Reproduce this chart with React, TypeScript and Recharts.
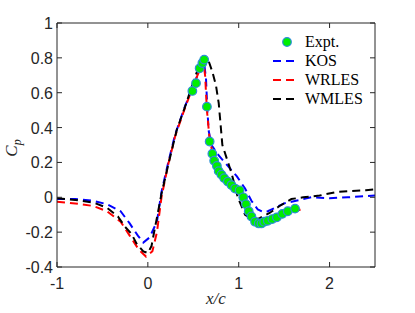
import {
  ComposedChart,
  Line,
  Scatter,
  XAxis,
  YAxis,
  Legend,
} from "recharts";

// Experimental Cp (markers)
const exptX = [0.49, 0.53, 0.57, 0.6, 0.62, 0.65, 0.68, 0.71, 0.73, 0.76, 0.78, 0.81, 0.84, 0.88, 0.92, 0.96, 1.01, 1.05, 1.08, 1.11, 1.14, 1.18, 1.22, 1.25, 1.28, 1.32, 1.37, 1.42, 1.48, 1.54, 1.62];
const exptY = [0.61, 0.655, 0.74, 0.77, 0.79, 0.52, 0.32, 0.25, 0.21, 0.18, 0.15, 0.13, 0.11, 0.09, 0.07, 0.05, 0.04, 0.0, -0.04, -0.08, -0.11, -0.14, -0.15, -0.15, -0.14, -0.135, -0.125, -0.115, -0.095, -0.08, -0.065];

const kosX = [-1, -0.8, -0.6, -0.45, -0.3, -0.2, -0.11, -0.05, 0.02, 0.1, 0.15, 0.22, 0.3, 0.4, 0.5, 0.57, 0.62, 0.64, 0.655, 0.67, 0.7, 0.74, 0.78, 0.88, 0.98, 1.07, 1.14, 1.21, 1.27, 1.32, 1.4, 1.5, 1.63, 1.8, 2.0, 2.2, 2.5];
const kosY = [-0.01, -0.01, -0.02, -0.04, -0.08, -0.15, -0.22, -0.26, -0.23, -0.14, 0.03, 0.19, 0.36, 0.51, 0.64, 0.73, 0.77, 0.68, 0.5, 0.38, 0.3, 0.27, 0.24, 0.18, 0.12, 0.05, -0.02, -0.07, -0.085, -0.08, -0.06, -0.035, -0.02, 0.0, -0.005, 0.0, 0.01];

const wrlesX = [-1, -0.8, -0.6, -0.45, -0.3, -0.2, -0.1, -0.02, 0.05, 0.1, 0.15, 0.22, 0.3, 0.4, 0.5, 0.57, 0.61, 0.63, 0.65, 0.68, 0.72, 0.78, 0.85, 0.92, 1.0, 1.06, 1.12, 1.18, 1.24, 1.3, 1.4, 1.5, 1.6, 1.68];
const wrlesY = [-0.025, -0.035, -0.05, -0.08, -0.14, -0.22, -0.3, -0.34, -0.31, -0.2, 0.0, 0.18, 0.35, 0.5, 0.64, 0.73, 0.78, 0.7, 0.5, 0.33, 0.24, 0.17, 0.11, 0.07, 0.03, -0.03, -0.1, -0.15, -0.155, -0.14, -0.12, -0.1, -0.085, -0.07];

const wmlesX = [-1, -0.8, -0.6, -0.45, -0.33, -0.25, -0.18, -0.12, -0.05, 0.0, 0.04, 0.08, 0.11, 0.15, 0.24, 0.32, 0.41, 0.48, 0.54, 0.6, 0.63, 0.67, 0.71, 0.75, 0.78, 0.8, 0.82, 0.87, 0.92, 0.96, 0.99, 1.07, 1.16, 1.23, 1.34, 1.45, 1.58, 1.71, 1.89, 2.07, 2.22, 2.4, 2.5];
const wmlesY = [-0.005, -0.015, -0.03, -0.06, -0.11, -0.17, -0.21, -0.27, -0.31, -0.32, -0.28, -0.17, -0.09, 0.02, 0.22, 0.39, 0.52, 0.63, 0.72, 0.79, 0.805, 0.78, 0.72, 0.64, 0.54, 0.42, 0.3, 0.22, 0.14, 0.06, 0.0, -0.1, -0.13, -0.12, -0.09, -0.05, -0.01, 0.0, 0.01, 0.03, 0.035, 0.04, 0.045];

const xTicks = [-1, 0, 1, 2];
const yTicks = [-0.4, -0.2, 0, 0.2, 0.4, 0.6, 0.8, 1];

const zip = (xs: number[], ys: number[]) => xs.map((x, i) => ({ x, y: ys[i] }));
const expt = zip(exptX, exptY);
const kos = zip(kosX, kosY);
const wrles = zip(wrlesX, wrlesY);
const wmles = zip(wmlesX, wmlesY);

const AXIS = "#262626";
const SANS = "'Liberation Sans', Arial, sans-serif";
const SERIF = "'Liberation Serif', 'Times New Roman', serif";
const DASH = "8 5";

const fmt = (v: number) => String(Math.round(v * 10) / 10);

const BottomTick = ({ x, y, payload }: any) => (
  <g>
    <line x1={x} x2={x} y1={y} y2={y - 5} stroke={AXIS} />
    <text x={x} y={y + 22} textAnchor="middle" fontFamily={SANS} fontSize={16} fill={AXIS}>
      {fmt(payload.value)}
    </text>
  </g>
);
const TopTick = ({ x, y }: any) => <line x1={x} x2={x} y1={y} y2={y + 5} stroke={AXIS} />;
const LeftTick = ({ x, y, payload }: any) => (
  <g>
    <line x1={x} x2={x + 5} y1={y} y2={y} stroke={AXIS} />
    <text x={x - 4} y={y + 6} textAnchor="end" fontFamily={SANS} fontSize={16} fill={AXIS}>
      {fmt(payload.value)}
    </text>
  </g>
);
const RightTick = ({ x, y }: any) => <line x1={x} x2={x - 5} y1={y} y2={y} stroke={AXIS} />;

const Marker = ({ cx, cy }: any) => (
  <circle cx={cx} cy={cy} r={4.3} fill="#00ee00" stroke="#2b8fd6" strokeWidth={1.2} />
);

const legendItems = [
  { name: "KOS", color: "#0000ff" },
  { name: "WRLES", color: "#ff0000" },
  { name: "WMLES", color: "#000000" },
];

const LegendBox = () => (
  <svg width={110} height={80}>
    <circle cx={22} cy={12} r={4.3} fill="#00ee00" stroke="#2b8fd6" strokeWidth={1.2} />
    <text x={40} y={17} fontFamily={SERIF} fontSize={16} fill="#000">Expt.</text>
    {legendItems.map((it, i) => (
      <g key={it.name}>
        <line x1={8} x2={32} y1={31 + i * 19} y2={31 + i * 19} stroke={it.color} strokeWidth={2} strokeDasharray={DASH} />
        <text x={40} y={36 + i * 19} fontFamily={SERIF} fontSize={16} fill="#000">{it.name}</text>
      </g>
    ))}
  </svg>
);

export default function App() {
  return (
    <div style={{ position: "absolute", left: 0, top: 0, background: "#fff" }}>
      <ComposedChart width={415} height={313} margin={{ top: 13, right: 0, bottom: 0, left: 0 }}>
        <XAxis
          xAxisId="bottom"
          dataKey="x"
          type="number"
          domain={[-1, 2.5]}
          ticks={xTicks}
          allowDataOverflow
          height={46}
          tickSize={0}
          tickMargin={0}
          tickLine={false}
          axisLine={{ stroke: AXIS }}
          tick={<BottomTick />}
          label={{
            content: () => (
              <text x={216} y={304} textAnchor="middle" fontFamily={SERIF} fontStyle="italic" fontSize={17} fill={AXIS}>
                x/c
              </text>
            ),
          }}
        />
        <XAxis
          xAxisId="top"
          orientation="top"
          dataKey="x"
          type="number"
          domain={[-1, 2.5]}
          ticks={xTicks}
          allowDataOverflow
          height={10}
          tickSize={0}
          tickMargin={0}
          tickLine={false}
          axisLine={{ stroke: AXIS }}
          tick={<TopTick />}
        />
        <YAxis
          yAxisId="left"
          type="number"
          domain={[-0.4, 1]}
          ticks={yTicks}
          allowDataOverflow
          width={57}
          tickSize={0}
          tickMargin={0}
          tickLine={false}
          axisLine={{ stroke: AXIS }}
          tick={<LeftTick />}
          label={{
            content: () => (
              <text transform="translate(17,148) rotate(-90)" textAnchor="middle" fontFamily={SERIF} fontStyle="italic" fontSize={17} fill={AXIS}>
                C<tspan fontSize={12} dy={4}>p</tspan>
              </text>
            ),
          }}
        />
        <YAxis
          yAxisId="right"
          orientation="right"
          type="number"
          domain={[-0.4, 1]}
          ticks={yTicks}
          allowDataOverflow
          width={40}
          tickSize={0}
          tickMargin={0}
          tickLine={false}
          axisLine={{ stroke: AXIS }}
          tick={<RightTick />}
        />
        <Line xAxisId="bottom" yAxisId="left" data={kos} dataKey="y" type="linear" stroke="#0000ff" strokeWidth={2} strokeDasharray={DASH} dot={false} isAnimationActive={false} />
        <Line xAxisId="bottom" yAxisId="left" data={wrles} dataKey="y" type="linear" stroke="#ff0000" strokeWidth={2} strokeDasharray={DASH} dot={false} isAnimationActive={false} />
        <Line xAxisId="bottom" yAxisId="left" data={wmles} dataKey="y" type="linear" stroke="#000000" strokeWidth={2} strokeDasharray={DASH} dot={false} isAnimationActive={false} />
        <Scatter xAxisId="bottom" yAxisId="left" data={expt} dataKey="y" shape={<Marker />} isAnimationActive={false} />
        <Legend
          layout="vertical"
          verticalAlign="middle"
          align="center"
          content={<LegendBox />}
          wrapperStyle={{ position: "absolute", left: 265, top: 30, width: 110, height: 80 }}
        />
      </ComposedChart>
    </div>
  );
}
